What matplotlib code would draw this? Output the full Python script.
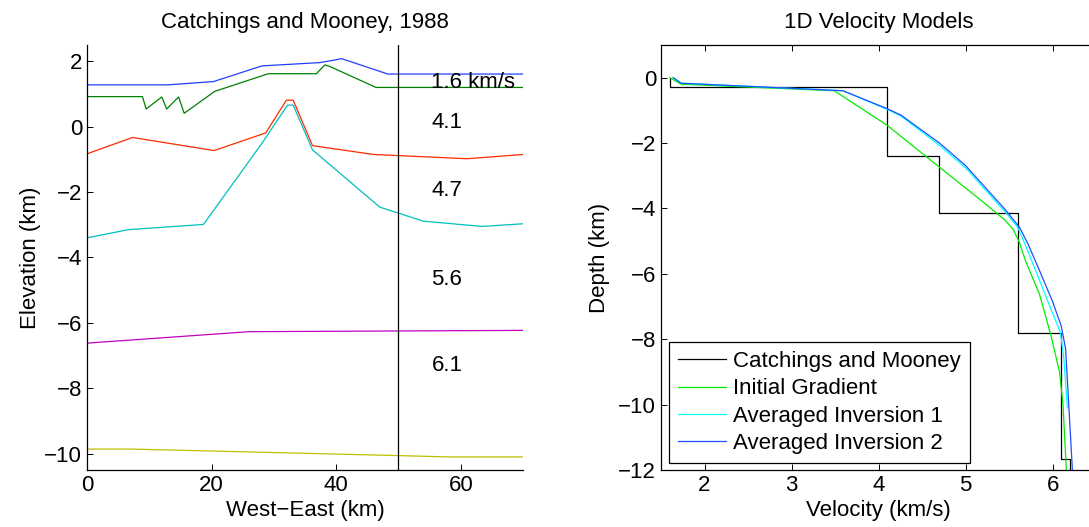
import numpy as np
import matplotlib
matplotlib.use("Agg")
import matplotlib.pyplot as plt

plt.rcParams['font.family'] = ['Liberation Sans', 'DejaVu Sans']
plt.rcParams['font.size'] = 16

# --- left panel: Catchings and Mooney (1988) layer boundaries ---
blue_x = [0, 13, 20.3, 28.1, 37.4, 40.9, 48.3, 70]
blue_y = [1.28, 1.28, 1.38, 1.86, 1.96, 2.08, 1.61, 1.61]

green_x = [0, 8.9, 9.5, 12.0, 12.8, 14.7, 15.6, 20.5, 29.1, 36.8, 38.2, 39.0, 46.4, 70]
green_y = [0.92, 0.92, 0.54, 0.91, 0.54, 0.91, 0.41, 1.08, 1.62, 1.62, 1.89, 1.84, 1.2, 1.2]

red_x = [0, 7.3, 20.4, 28.7, 32.0, 33.1, 36.2, 46.0, 61.0, 70]
red_y = [-0.83, -0.33, -0.73, -0.19, 0.81, 0.81, -0.58, -0.85, -0.98, -0.85]

cyan_x = [0, 6.6, 18.7, 28.0, 32.2, 33.1, 36.2, 47.0, 54.0, 63.4, 70]
cyan_y = [-3.40, -3.15, -2.99, -0.53, 0.66, 0.66, -0.71, -2.46, -2.89, -3.05, -2.97]

magenta_x = [0, 26, 70]
magenta_y = [-6.62, -6.27, -6.23]

yellow_x = [0, 7, 50, 58, 70]
yellow_y = [-9.86, -9.86, -10.06, -10.1, -10.1]

profile_x = 50
layer_labels = ["1.6 km/s", "4.1", "4.7", "5.6", "6.1"]
label_y = [1.35, 0.13, -1.95, -4.67, -7.29]

# --- right panel: 1D velocity models ---
cm_vel = [1.6, 4.1, 4.7, 5.6, 6.1, 6.2]
cm_top = [0, -0.28, -2.4, -4.15, -7.8, -11.65]
cm_bottom = -12.5

grad_vel = [1.6, 1.73, 3.49, 4.1, 4.71, 5.2, 5.45, 5.55, 5.62, 5.69, 5.85, 5.98, 6.08, 6.12, 6.16]
grad_dep = [0, -0.2, -0.4, -1.46, -2.76, -3.8, -4.35, -4.65, -5.05, -5.61, -6.63, -7.87, -9.0, -10.0, -12.1]

inv1_vel = [1.64, 1.73, 3.59, 4.1, 4.26, 4.70, 5.0, 5.46, 5.6, 5.7, 5.82, 5.97, 6.09, 6.13, 6.17]
inv1_dep = [0, -0.17, -0.4, -0.97, -1.18, -2.07, -2.76, -4.12, -4.58, -5.2, -6.0, -7.0, -7.79, -8.6, -10.1]

inv2_vel = [1.64, 1.73, 3.59, 4.1, 4.26, 4.70, 5.0, 5.46, 5.62, 5.72, 5.85, 6.0, 6.1, 6.15, 6.23]
inv2_dep = [0, -0.17, -0.4, -0.95, -1.15, -2.0, -2.69, -4.05, -4.58, -5.1, -5.9, -6.85, -7.6, -8.3, -12.1]

fig = plt.figure(figsize=(10.89, 5.27), dpi=100)
ax1 = fig.add_axes([0.0799, 0.1082, 0.4004, 0.8065])
ax2 = fig.add_axes([0.607, 0.1082, 0.3995, 0.8065])

lw = 0.9
ax1.plot(blue_x, blue_y, color='#2040ff', lw=lw)
ax1.plot(green_x, green_y, color='#008000', lw=lw)
ax1.plot(red_x, red_y, color='#ff2a00', lw=lw)
ax1.plot(cyan_x, cyan_y, color='#00bfbf', lw=lw)
ax1.plot(magenta_x, magenta_y, color='#bf00bf', lw=lw)
ax1.plot(yellow_x, yellow_y, color='#bfbf00', lw=lw)
ax1.axvline(profile_x, color='k', lw=lw)
for txt, y in zip(layer_labels, label_y):
    ax1.text(55.3, y, txt, va='center', ha='left')

ax1.set_xlim(0, 70)
ax1.set_ylim(-10.5, 2.5)
ax1.set_xticks([0, 20, 40, 60])
ax1.set_yticks(np.arange(-10, 3, 2))
ax1.spines['top'].set_visible(False)
ax1.spines['right'].set_visible(False)
ax1.tick_params(direction='in', length=4, width=0.7)
ax1.set_xlabel("West\u2212East (km)", labelpad=3)
ax1.set_ylabel("Elevation (km)", labelpad=2)
ax1.set_title("Catchings and Mooney, 1988", fontsize=16, pad=12)

# step model from layer tops
step_v = np.repeat(cm_vel, 2)
step_d = np.column_stack([cm_top, cm_top[1:] + [cm_bottom]]).ravel()
ax2.plot(step_v, step_d, color='k', lw=lw, label="Catchings and Mooney")
ax2.plot(grad_vel, grad_dep, color='#00ee00', lw=lw, label="Initial Gradient")
ax2.plot(inv1_vel, inv1_dep, color='#00ffff', lw=lw, label="Averaged Inversion 1")
ax2.plot(inv2_vel, inv2_dep, color='#1f4fff', lw=lw, label="Averaged Inversion 2")

ax2.set_xlim(1.5, 6.5)
ax2.set_ylim(-12, 1)
ax2.set_xticks([2, 3, 4, 5, 6])
ax2.set_yticks(np.arange(-12, 1, 2))
ax2.tick_params(direction='in', length=4, width=0.7, top=True, right=True)
ax2.set_xlabel("Velocity (km/s)", labelpad=3)
ax2.set_ylabel("Depth (km)", labelpad=6)
ax2.set_title("1D Velocity Models", fontsize=16, pad=12)
leg = ax2.legend(loc='lower left', bbox_to_anchor=(0.018, 0.017), fancybox=False,
                 edgecolor='k', framealpha=1, borderpad=0.4, labelspacing=0.28,
                 handlelength=2.15, handletextpad=0.35, borderaxespad=0)
leg.get_frame().set_linewidth(0.9)

for ax in (ax1, ax2):
    for s in ax.spines.values():
        s.set_linewidth(0.9)

fig.savefig("out.png", dpi=100)
